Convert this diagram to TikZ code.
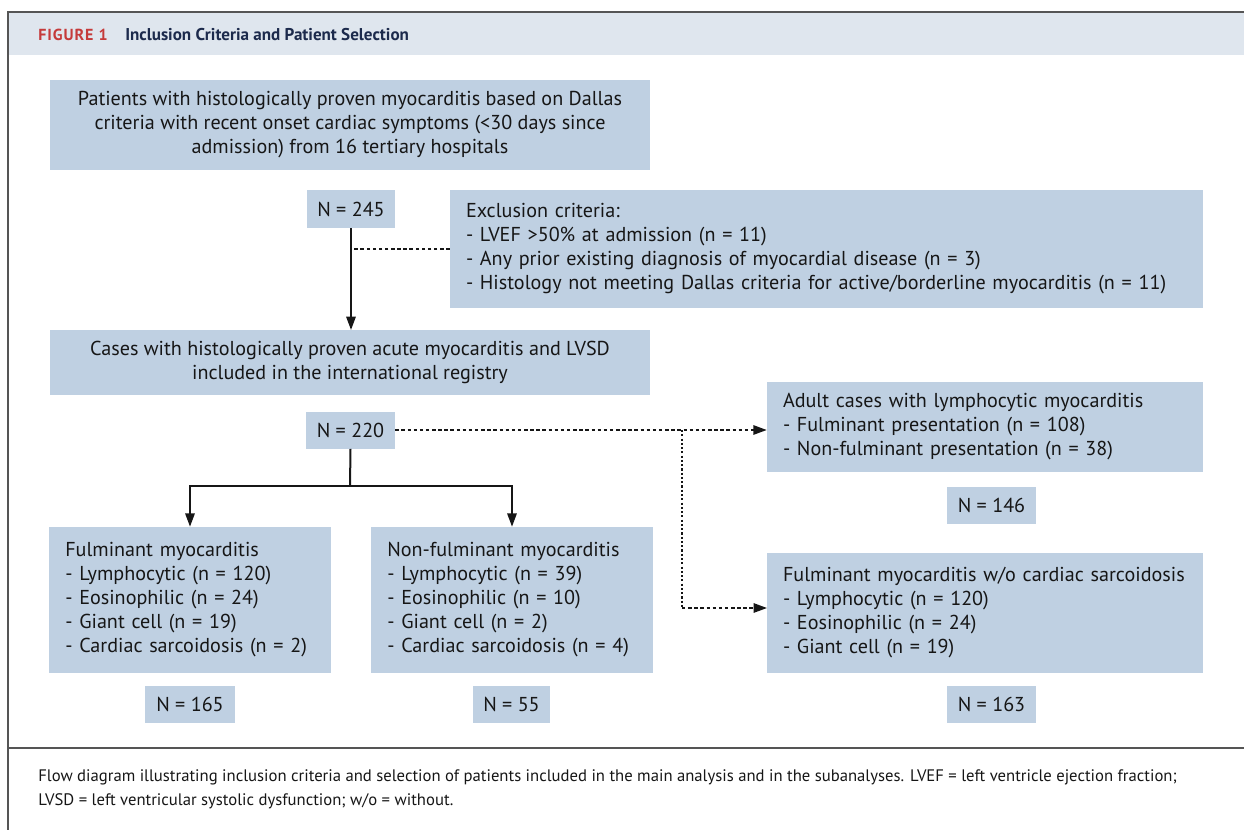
\documentclass[tikz,border=0pt]{standalone}
\usepackage{fontspec}
\setmainfont{PT Sans}
\usetikzlibrary{arrows.meta}
\definecolor{boxblue}{HTML}{BFD0E2}
\definecolor{headband}{HTML}{DFE6EE}
\definecolor{figred}{HTML}{C53A3A}
\definecolor{titlenavy}{HTML}{1C2A4C}
\definecolor{inkgrey}{HTML}{161616}
\definecolor{framegrey}{HTML}{555555}

\begin{document}
\begin{tikzpicture}[
	x=0.75pt, y=-0.75pt,
	boxc/.style={ fill=boxblue, inner sep=0pt, align=center, text=inkgrey, font=\fontsize{15.1}{18}\selectfont },
	boxl/.style={ boxc, align=left, inner xsep=12pt, text width=#1 },
	nbox/.style={ boxc, minimum height=27.75pt },
	flow/.style={ draw=inkgrey, line width=1.5pt, -{Triangle[length=10pt,width=7pt]} },
	trunk/.style={ draw=inkgrey, line width=1.5pt },
	dashline/.style={ draw=inkgrey, line width=1.3pt, dash pattern=on 2.6pt off 2pt },
	dashflow/.style={ dashline, -{Triangle[length=10pt,width=7pt]} },
	dotline/.style={ draw=inkgrey, line width=1.3pt, dash pattern=on 1.6pt off 1.6pt },
	frame/.style={ draw=framegrey, line width=1pt },
	caption/.style={ anchor=west, inner sep=0pt, align=left, text=inkgrey, font=\fontsize{12.5}{18}\selectfont }
]

\useasboundingbox (0,0) rectangle (1244,830);

\fill[headband] (8,12) rectangle (1244,55);
\draw[frame] (8,830) -- (8,12) -- (1244,12);
\draw[frame] (8,748) -- (1244,748);
\node at (38,35) (figlabel) [anchor=west, inner sep=0pt, text=figred, font=\fontsize{12}{14}\selectfont\bfseries\addfontfeature{LetterSpace=6}] {FIGURE 1};
\node at (125,35) (figtitle) [anchor=west, inner sep=0pt, text=titlenavy, font=\fontsize{12.8}{14}\selectfont\bfseries] {Inclusion Criteria and Patient Selection};

\node at (350,125) (cohort) [boxc, minimum width=450pt, minimum height=67.5pt] {Patients with histologically proven myocarditis based on Dallas\\criteria with recent onset cardiac symptoms (<30 days since\\admission) from 16 tertiary hospitals};
\node at (351,209) (n245) [nbox, minimum width=66pt, minimum height=28.5pt] {N = 245};
\node at (826.5,249) (excl) [boxl=540.75pt, minimum height=88.5pt] {Exclusion criteria:\\- LVEF >50\% at admission (n = 11)\\- Any prior existing diagnosis of myocardial disease (n = 3)\\- Histology not meeting Dallas criteria for active/borderline myocarditis (n = 11)};
\draw[flow] (n245.south) -- (n245.south |- 0,330);
\draw[dashline] (excl.west) -- (excl.west -| n245.south);

\node at (350,362.5) (registry) [boxc, minimum width=450pt, minimum height=48.75pt] {Cases with histologically proven acute myocarditis and LVSD\\included in the international registry};
\node at (350.5,430) (n220) [nbox, minimum width=66.75pt] {N = 220};

\node at (190,600) (fulm) [boxl=187pt, minimum height=109.5pt] {Fulminant myocarditis\\- Lymphocytic (n = 120)\\- Eosinophilic (n = 24)\\- Giant cell (n = 19)\\- Cardiac sarcoidosis (n = 2)};
\node at (512,600) (nonfulm) [boxl=187pt, minimum height=109.5pt] {Non-fulminant myocarditis\\- Lymphocytic (n = 39)\\- Eosinophilic (n = 10)\\- Giant cell (n = 2)\\- Cardiac sarcoidosis (n = 4)};
\node at (190,704) (n165) [nbox, minimum width=67.5pt] {N = 165};
\node at (511.5,704) (n55) [nbox, minimum width=57.75pt] {N = 55};
\coordinate (split) at (350,486);
\draw[trunk] (n220.south) -- (split);
\draw[flow] (split) -| (fulm.north);
\draw[flow] (split) -| (nonfulm.north);

\node at (985,427) (adult) [boxl=303pt, minimum height=67.5pt] {Adult cases with lymphocytic myocarditis\\- Fulminant presentation (n = 108)\\- Non-fulminant presentation (n = 38)};
\node at (991.5,505.5) (n146) [nbox, minimum width=66.75pt] {N = 146};
\node at (985,613) (fulmwo) [boxl=303pt, minimum height=90pt] {Fulminant myocarditis w/o cardiac sarcoidosis\\- Lymphocytic (n = 120)\\- Eosinophilic (n = 24)\\- Giant cell (n = 19)};
\node at (991.5,704) (n163) [nbox, minimum width=66.75pt] {N = 163};
\coordinate (fork) at (682,430);
\coordinate (woin) at (767,608);
\draw[dashflow] (n220.east) -- (n220.east -| adult.west);
\draw[dotline] (fork) -- (fork |- woin);
\draw[dashflow] (fork |- woin) -- (woin);

\node at (38,789) (legend) [caption] {Flow diagram illustrating inclusion criteria and selection of patients included in the main analysis and in the subanalyses. LVEF = left ventricle ejection fraction;\\LVSD = left ventricular systolic dysfunction; w/o = without.};

\end{tikzpicture}
\end{document}
